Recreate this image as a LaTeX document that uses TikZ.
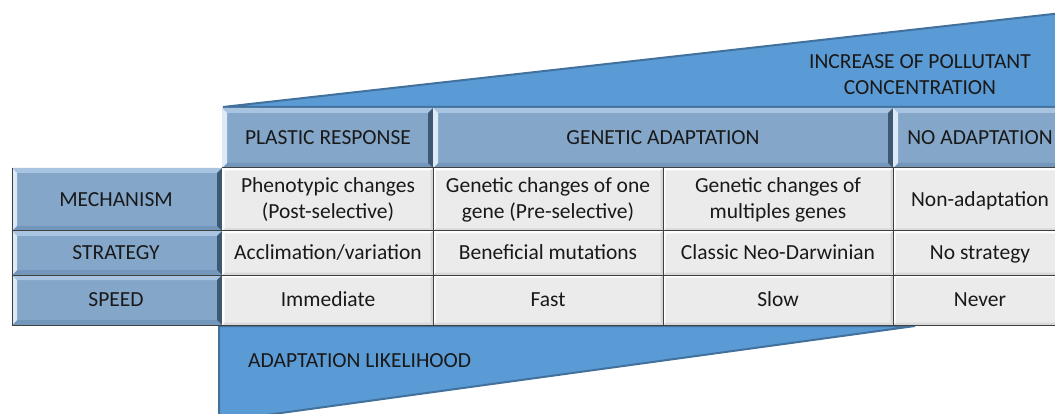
\documentclass[tikz,border=0pt]{standalone}
\usepackage{fontspec}
\setmainfont{Carlito}
\definecolor{triF}{HTML}{5B9BD5}
\definecolor{triD}{HTML}{41719C}
\definecolor{hBase}{HTML}{84A6C9}
\definecolor{hTop}{HTML}{A9C4E0}
\definecolor{hLeft}{HTML}{DCEAF6}
\definecolor{hRight}{HTML}{3E5873}
\definecolor{hBot}{HTML}{7396BB}
\definecolor{gBase}{HTML}{EBEBEB}
\definecolor{gTop}{HTML}{FFFFFF}
\definecolor{gLeft}{HTML}{FFFFFF}
\definecolor{gRight}{HTML}{D6D6D6}
\definecolor{gBot}{HTML}{D9D9D9}
\definecolor{gridc}{HTML}{404040}
\newcommand\bvcell[6]{%
 \fill[#6Base] (#1,#2) rectangle (#3,#4);
 \fill[#6Top] (#1,#2) -- (#3,#2) -- ({#3-#5},{#2+#5}) -- ({#1+#5},{#2+#5}) -- cycle;
 \fill[#6Bot] (#1,#4) -- (#3,#4) -- ({#3-#5},{#4-#5}) -- ({#1+#5},{#4-#5}) -- cycle;
 \fill[#6Left] (#1,#2) -- ({#1+#5},{#2+#5}) -- ({#1+#5},{#4-#5}) -- (#1,#4) -- cycle;
 \fill[#6Right] (#3,#2) -- ({#3-#5},{#2+#5}) -- ({#3-#5},{#4-#5}) -- (#3,#4) -- cycle;
}
\tikzset{
 txt/.style={font=\fontsize{21.5}{26}\selectfont, align=center, text=black!90, inner sep=0pt},
 one/.style={txt, text height=13.5pt, text depth=0pt},
 tri/.style={fill=triF, draw=triD, line width=2pt, line join=miter},
 gridline/.style={draw=gridc, line width=1pt}
}
\begin{document}
\begin{tikzpicture}[x=1pt,y=-1pt]
\useasboundingbox (0,0) rectangle (1055,414);
\begin{scope}
\clip (0,0) rectangle (1055,414);
% triangles
\path[tri] (223,107) -- (1062,13) -- (1062,107) -- cycle;
\path[tri] (219,326) -- (915,326) -- (219,421.5) -- cycle;
% header cells
\bvcell{222}{108}{433}{168}{5}{h}
\bvcell{433}{108}{893}{168}{5}{h}
\bvcell{893}{108}{1075}{168}{5}{h}
% row label cells
\bvcell{12}{168}{222}{231}{5}{h}
\bvcell{12}{231}{222}{275}{5}{h}
\bvcell{12}{275}{222}{325}{5}{h}
% body cells
\foreach \xa/\xb in {222/433,433/663,663/893,893/1075}{
 \bvcell{\xa}{168}{\xb}{231}{2.5}{g}
 \bvcell{\xa}{231}{\xb}{275}{2.5}{g}
 \bvcell{\xa}{275}{\xb}{325}{2.5}{g}
}
% grid
\draw[gridline] (222,168) -- (1075,168);
\draw[gridline] (12,231) -- (1075,231);
\draw[gridline] (12,275) -- (1075,275);
\draw[gridline] (12,325) -- (1075,325);
\draw[gridline] (12,168) -- (12,325);
\foreach \x in {433,663,893}{\draw[gridline] (\x,168) -- (\x,325);}
\end{scope}
% texts
\node[txt] (inc) at (920,75) {INCREASE OF POLLUTANT\\CONCENTRATION};
\node[one,anchor=west] (lik) at (248,361) {ADAPTATION LIKELIHOOD};
\node[one] (h1) at (328,138) {PLASTIC RESPONSE};
\node[one] (h2) at (663,138) {GENETIC ADAPTATION};
\node[one] (h3) at (980,138) {NO ADAPTATION};
\node[one] (r1) at (116,200) {MECHANISM};
\node[one] (r2) at (116,253) {STRATEGY};
\node[one] (r3) at (116,300) {SPEED};
\node[txt] (c11) at (328,200) {Phenotypic changes\\(Post-selective)};
\node[one] (c12) at (328,253) {Acclimation/variation};
\node[one] (c13) at (328,300) {Immediate};
\node[txt] (c21) at (548,200) {Genetic changes of one\\gene (Pre-selective)};
\node[one] (c22) at (548,253) {Beneficial mutations};
\node[one] (c23) at (548,300) {Fast};
\node[txt] (c31) at (778,200) {Genetic changes of\\multiples genes};
\node[one] (c32) at (778,253) {Classic Neo-Darwinian};
\node[one] (c33) at (778,300) {Slow};
\node[one] (c41) at (980,200) {Non-adaptation};
\node[one] (c42) at (980,253) {No strategy};
\node[one] (c43) at (980,300) {Never};
\end{tikzpicture}
\end{document}
